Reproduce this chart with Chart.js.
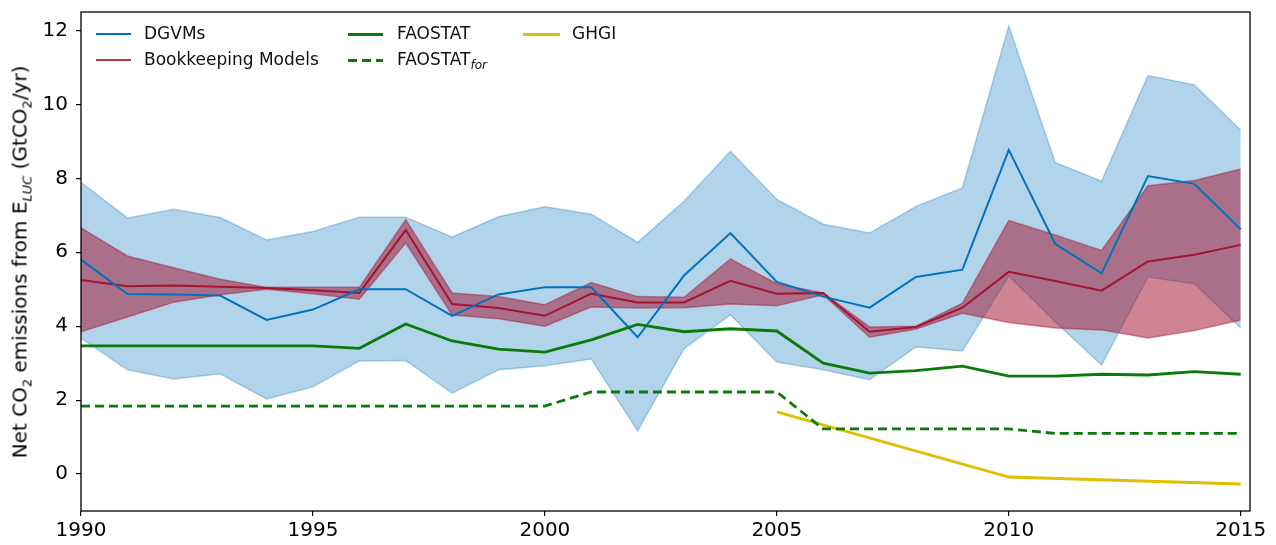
<!DOCTYPE html>
<html>
<head>
<meta charset="utf-8">
<script src="https://cdn.jsdelivr.net/npm/chart.js@4/dist/chart.umd.min.js"></script>
<style>
    body { margin: 0; background: #fff; font-family: "DejaVu Sans", sans-serif; }
    #wrap { position: relative; width: 1276px; height: 545px; }
    #ytitle {
        position: absolute; left: 21px; top: 262px;
        transform: translate(-50%, -50%) rotate(-90deg);
        white-space: nowrap; font-size: 20px; color: #000;
    }
    #ytitle sub { font-size: 13px; }
    #ytitle sub.it { font-style: italic; }
    .leg { position: absolute; font-size: 17px; color: #111; white-space: nowrap; }
    .leg .sw { position: absolute; top: 10px; width: 35px; }
    .leg .tx { position: absolute; top: 0; }
    .leg sub { font-style: italic; font-size: 12px; }
</style>
</head>
<body>
<div id="wrap">
    <canvas id="chart" width="1276" height="545"></canvas>
    <div id="ytitle">Net CO<sub>2</sub> emissions from E<sub class="it">LUC</sub> (GtCO<sub>2</sub>/yr)</div>

    <div class="leg" style="left:96px; top:23px;"><div class="sw" style="border-top:2px solid #0072BD;"></div><div class="tx" style="left:48px;">DGVMs</div></div>
    <div class="leg" style="left:96px; top:49px;"><div class="sw" style="border-top:2px solid rgba(162,20,47,0.85);"></div><div class="tx" style="left:48px;">Bookkeeping Models</div></div>
    <div class="leg" style="left:348px; top:23px;"><div class="sw" style="border-top:3px solid #0b7a0b;"></div><div class="tx" style="left:49px;">FAOSTAT</div></div>
    <div class="leg" style="left:348px; top:49px;"><div class="sw" style="height:3px; background:repeating-linear-gradient(90deg,#0b7a0b 0 9px,transparent 9px 14px);"></div><div class="tx" style="left:49px;">FAOSTAT<sub>for</sub></div></div>
    <div class="leg" style="left:523px; top:23px;"><div class="sw" style="width:37px; border-top:3px solid #e0bf00;"></div><div class="tx" style="left:49px;">GHGI</div></div>
</div>

<script>
const years = [1990, 1991, 1992, 1993, 1994, 1995, 1996, 1997, 1998, 1999,
               2000, 2001, 2002, 2003, 2004, 2005, 2006, 2007, 2008, 2009,
               2010, 2011, 2012, 2013, 2014, 2015];

const dgvmMean = [5.80, 4.87, 4.86, 4.83, 4.17, 4.45, 5.00, 5.00, 4.28, 4.86,
                  5.05, 5.05, 3.70, 5.37, 6.52, 5.20, 4.80, 4.50, 5.33, 5.53,
                  8.77, 6.23, 5.43, 8.06, 7.85, 6.62];
const dgvmHigh = [7.89, 6.93, 7.16, 6.94, 6.33, 6.56, 6.95, 6.95, 6.41, 6.96,
                  7.23, 7.03, 6.27, 7.38, 8.73, 7.43, 6.76, 6.52, 7.24, 7.74,
                  12.12, 8.43, 7.92, 10.78, 10.53, 9.30];
const dgvmLow = [3.68, 2.82, 2.57, 2.71, 2.03, 2.36, 3.06, 3.07, 2.19, 2.82,
                 2.93, 3.11, 1.17, 3.39, 4.31, 3.03, 2.82, 2.55, 3.44, 3.33,
                 5.36, 4.12, 2.95, 5.33, 5.15, 3.95];

const bkMean = [5.25, 5.08, 5.10, 5.07, 5.03, 4.97, 4.90, 6.60, 4.60, 4.49,
                4.28, 4.88, 4.64, 4.64, 5.23, 4.88, 4.90, 3.85, 3.98, 4.50,
                5.47, 5.22, 4.96, 5.75, 5.93, 6.20];
const bkHigh = [6.66, 5.90, 5.58, 5.27, 5.05, 5.05, 5.05, 6.88, 4.90, 4.80,
                4.58, 5.18, 4.80, 4.78, 5.82, 5.15, 4.90, 3.98, 4.00, 4.62,
                6.86, 6.47, 6.05, 7.80, 7.94, 8.25];
const bkLow = [3.85, 4.25, 4.65, 4.85, 5.00, 4.88, 4.73, 6.25, 4.30, 4.20,
               4.00, 4.52, 4.49, 4.50, 4.60, 4.55, 4.85, 3.70, 3.92, 4.35,
               4.10, 3.95, 3.90, 3.68, 3.88, 4.17];

const faostat = [3.47, 3.47, 3.47, 3.47, 3.47, 3.47, 3.40, 4.06, 3.60, 3.38,
                 3.30, 3.63, 4.05, 3.85, 3.93, 3.87, 3.00, 2.73, 2.80, 2.92,
                 2.65, 2.65, 2.70, 2.68, 2.77, 2.70];
const faostatFor = [1.84, 1.84, 1.84, 1.84, 1.84, 1.84, 1.84, 1.84, 1.84, 1.84,
                    1.84, 2.22, 2.22, 2.22, 2.22, 2.22, 1.22, 1.22, 1.22, 1.22,
                    1.22, 1.10, 1.10, 1.10, 1.10, 1.10];
const ghgi = [null, null, null, null, null, null, null, null, null, null,
              null, null, null, null, null, 1.68, null, null, null, null,
              -0.08, null, null, null, null, -0.27];

const xTicks = [1990, 1995, 2000, 2005, 2010, 2015];
const yTicks = [0, 2, 4, 6, 8, 10, 12];

function pts(arr) {
    return years.map((yr, i) => ({ x: yr, y: arr[i] }));
}

// frame round the plot area, like matplotlib spines
const framePlugin = {
    id: "frame",
    afterDraw(chart) {
        const a = chart.chartArea;
        const ctx = chart.ctx;
        ctx.save();
        ctx.strokeStyle = "#000";
        ctx.lineWidth = 1.3;
        ctx.strokeRect(a.left, a.top, a.right - a.left, a.bottom - a.top);
        ctx.restore();
    }
};

const line = { pointRadius: 0, tension: 0, fill: false };

new Chart(document.getElementById("chart").getContext("2d"), {
    type: "line",
    data: {
        datasets: [
            { ...line, label: "DGVMs", data: pts(dgvmMean), borderColor: "#0072BD", borderWidth: 2, order: 1 },
            { ...line, label: "Bookkeeping Models", data: pts(bkMean), borderColor: "#A2142F", borderWidth: 2, order: 2 },
            { ...line, label: "FAOSTAT", data: pts(faostat), borderColor: "#0b7a0b", borderWidth: 2.8, order: 0 },
            { ...line, label: "FAOSTAT for", data: pts(faostatFor), borderColor: "#0b7a0b", borderWidth: 2.8, borderDash: [9, 5], order: 0 },
            { ...line, label: "GHGI", data: pts(ghgi), borderColor: "#e0bf00", borderWidth: 2.8, spanGaps: true, order: 0 },
            // bookkeeping range
            { ...line, label: "bk high", data: pts(bkHigh), borderColor: "rgba(162,20,47,0.45)", borderWidth: 1.5,
              fill: "+1", backgroundColor: "rgba(162,20,47,0.52)", order: 9 },
            { ...line, label: "bk low", data: pts(bkLow), borderColor: "rgba(162,20,47,0.45)", borderWidth: 1.5, order: 9 },
            // DGVM range
            { ...line, label: "dgvm high", data: pts(dgvmHigh), borderColor: "rgba(0,114,189,0.3)", borderWidth: 1.5,
              fill: "+1", backgroundColor: "rgba(0,114,189,0.3)", order: 10 },
            { ...line, label: "dgvm low", data: pts(dgvmLow), borderColor: "rgba(0,114,189,0.3)", borderWidth: 1.5, order: 11 }
        ]
    },
    options: {
        responsive: false,
        animation: false,
        layout: { padding: { top: 12, right: 26, left: 0, bottom: 0 } },
        plugins: {
            legend: { display: false },
            tooltip: { enabled: false }
        },
        scales: {
            x: {
                type: "linear",
                min: 1990,
                max: 2015.2,
                afterBuildTicks: s => { s.ticks = xTicks.map(v => ({ value: v })); },
                afterFit: s => { s.height = 34; s.paddingLeft = 0; s.paddingRight = 0; },
                border: { display: false },
                grid: { drawOnChartArea: false, drawTicks: true, tickLength: 5, color: "#000", lineWidth: 1.2 },
                ticks: { color: "#000", padding: 3, maxRotation: 0, font: { family: "DejaVu Sans", size: 20 },
                         callback: v => String(v) }
            },
            y: {
                min: -1,
                max: 12.5,
                afterBuildTicks: s => { s.ticks = yTicks.map(v => ({ value: v })); },
                afterFit: s => { s.width = 81; s.paddingTop = 0; s.paddingBottom = 0; },
                border: { display: false },
                grid: { drawOnChartArea: false, drawTicks: true, tickLength: 5, color: "#000", lineWidth: 1.2 },
                ticks: { color: "#000", padding: 8, font: { family: "DejaVu Sans", size: 20 } }
            }
        }
    },
    plugins: [framePlugin]
});
</script>
</body>
</html>
